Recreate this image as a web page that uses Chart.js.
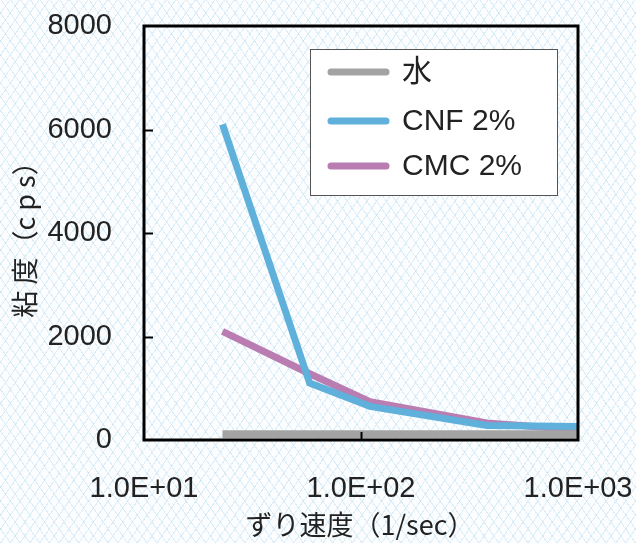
<!DOCTYPE html>
<html>
<head>
<meta charset="utf-8">
<script src="https://cdn.jsdelivr.net/npm/chart.js@4/dist/chart.umd.min.js"></script>
<style>
  html, body { margin: 0; padding: 0; }
  body {
    width: 636px;
    height: 543px;
    background-color: #fbfdfe;
    background-image:
      repeating-linear-gradient(55deg, rgba(175, 215, 238, 0.4) 0 1px, transparent 1px 8px),
      repeating-linear-gradient(-55deg, rgba(175, 215, 238, 0.4) 0 1px, transparent 1px 8px);
  }
  #wrap { position: relative; width: 636px; height: 543px; }
</style>
</head>
<body>
<div id="wrap"><canvas id="chart" width="636" height="543"></canvas></div>
<script>
// shear rate (1/sec) and viscosity (cps)
const shearRates = [23, 58, 110, 380, 1000];
const waterValues = [110, 110, 110, 110, 110];
const cnfValues = [6100, 1100, 650, 280, 260];
const cmcValues = [2100, 1280, 740, 330, 200];
const seriesLabels = ["水", "CNF 2%", "CMC 2%"];
const seriesColors = ["rgb(163, 163, 163)", "rgb(95, 176, 218)", "rgb(185, 125, 178)"];
const xTickValues = [10, 100, 1000];
const yTickValues = [0, 2000, 4000, 6000, 8000];

const FONT = '"Liberation Sans", "Noto Sans CJK JP", sans-serif';
const JP_FONT = '"Noto Sans CJK JP", "Liberation Sans", sans-serif';
const TEXT_COLOR = "#222";

const toPoints = (values) => values.map((v, i) => ({ x: shearRates[i], y: v }));

const formatExp = (value) => {
  const exp = Math.round(Math.log10(value));
  return "1.0E+" + String(exp).padStart(2, "0");
};

// frame, inward ticks, legend and axis titles
const decorations = {
  id: "decorations",
  afterDatasetsDraw(chart) {
    const { ctx, chartArea: a, scales } = chart;
    ctx.save();

    // inward tick marks
    ctx.strokeStyle = "#000";
    ctx.lineWidth = 2;
    yTickValues.slice(1, -1).forEach((v) => {
      const y = Math.round(scales.y.getPixelForValue(v)) + 0.5;
      ctx.beginPath();
      ctx.moveTo(a.left, y);
      ctx.lineTo(a.left + 9, y);
      ctx.stroke();
    });
    xTickValues.slice(1, -1).forEach((v) => {
      const x = Math.round(scales.x.getPixelForValue(v)) + 0.5;
      ctx.beginPath();
      ctx.moveTo(x, a.bottom);
      ctx.lineTo(x, a.bottom - 8);
      ctx.stroke();
    });

    // plot frame
    ctx.lineWidth = 3;
    ctx.strokeRect(a.left, a.top, a.right - a.left, a.bottom - a.top);

    // legend
    const lx = 310, ly = 49, lw = 247, lh = 146;
    ctx.fillStyle = "#fff";
    ctx.fillRect(lx, ly, lw, lh);
    ctx.lineWidth = 1;
    ctx.strokeStyle = "#555";
    ctx.strokeRect(lx + 0.5, ly + 0.5, lw, lh);
    const rows = [72, 121, 166];
    chart.data.datasets.forEach((ds, i) => {
      ctx.strokeStyle = ds.borderColor;
      ctx.lineWidth = 7;
      ctx.lineCap = "round";
      ctx.beginPath();
      ctx.moveTo(331, rows[i]);
      ctx.lineTo(386, rows[i]);
      ctx.stroke();
      ctx.fillStyle = TEXT_COLOR;
      ctx.font = "30px " + FONT;
      ctx.textBaseline = "middle";
      ctx.textAlign = "left";
      ctx.fillText(ds.label, 402, rows[i] + 1);
    });

    // axis titles
    ctx.fillStyle = TEXT_COLOR;
    ctx.font = "27px " + JP_FONT;
    ctx.textAlign = "center";
    ctx.textBaseline = "middle";
    ctx.fillText("ずり速度（1/sec）", 360, 525);

    ctx.translate(25, 233);
    ctx.rotate(-Math.PI / 2);
    ctx.fillText("粘 度（c p s）", 0, 0);

    ctx.restore();
  },
};

new Chart(document.getElementById("chart"), {
  type: "line",
  data: {
    datasets: [
      { label: seriesLabels[0], data: toPoints(waterValues), borderColor: seriesColors[0], borderWidth: 8 },
      { label: seriesLabels[1], data: toPoints(cnfValues), borderColor: seriesColors[1], borderWidth: 7 },
      { label: seriesLabels[2], data: toPoints(cmcValues), borderColor: seriesColors[2], borderWidth: 7 },
    ].map((ds) => ({ ...ds, pointRadius: 0, fill: false, tension: 0, borderCapStyle: "butt" })),
  },
  options: {
    responsive: false,
    animation: false,
    events: [],
    layout: { padding: { top: 26, right: 58, left: 0, bottom: 0 } },
    plugins: { legend: { display: false }, tooltip: { enabled: false } },
    scales: {
      x: {
        type: "logarithmic",
        min: 10,
        max: 1000,
        border: { display: false },
        grid: { display: false },
        afterBuildTicks(scale) {
          scale.ticks = xTickValues.map((v) => ({ value: v }));
        },
        afterFit(scale) {
          scale.height = 103;
          scale.paddingLeft = 0;
          scale.paddingRight = 0;
        },
        ticks: {
          padding: 24,
          maxRotation: 0,
          color: TEXT_COLOR,
          font: { family: FONT, size: 29 },
          callback: (value) => formatExp(value),
        },
      },
      y: {
        min: 0,
        max: 8000,
        border: { display: false },
        grid: { display: false },
        afterBuildTicks(scale) {
          scale.ticks = yTickValues.map((v) => ({ value: v }));
        },
        afterFit(scale) {
          scale.width = 144;
          scale.paddingTop = 0;
          scale.paddingBottom = 0;
        },
        ticks: {
          padding: 24,
          color: TEXT_COLOR,
          font: { family: FONT, size: 29 },
          callback: (value) => String(value),
        },
      },
    },
  },
  plugins: [decorations],
});
</script>
</body>
</html>
